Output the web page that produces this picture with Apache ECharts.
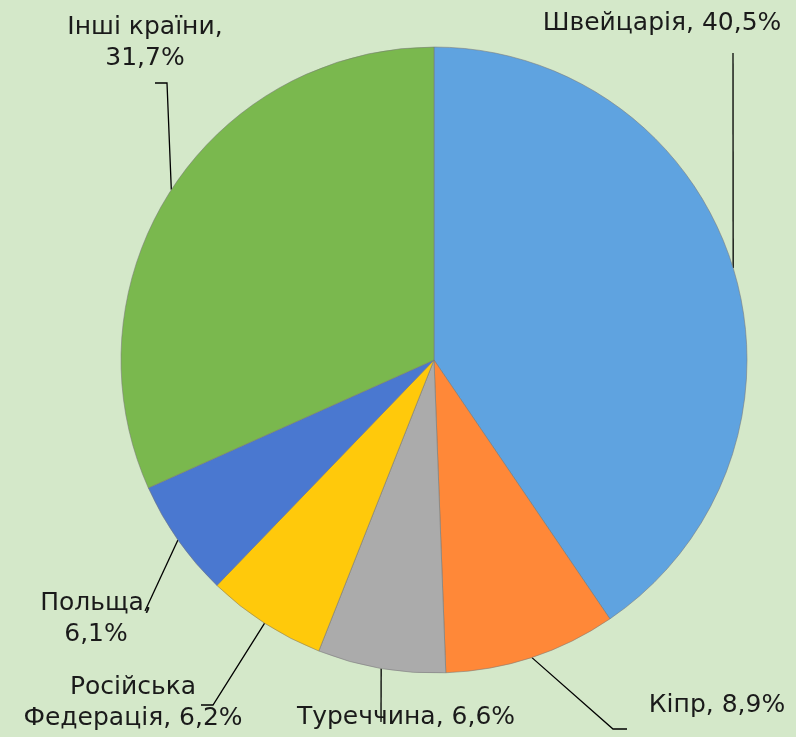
<!DOCTYPE html>
<html><head><meta charset="utf-8">
<script src="https://cdn.jsdelivr.net/npm/echarts@6/dist/echarts.min.js"></script>
<style>html,body{margin:0;padding:0;background:#D4E8C9;}#c{width:796px;height:737px;}</style>
</head><body><div id="c"></div>
<script>
const categories = ['Швейцарія', 'Кіпр', 'Туреччина', 'Російська\nФедерація', 'Польща', 'Інші країни'];
const values = [40.5, 8.9, 6.6, 6.2, 6.1, 31.7];
const valueLabels = ['40,5%', '8,9%', '6,6%', '6,2%', '6,1%', '31,7%'];
const colors = ['#5FA3E0', '#FF8838', '#ABABAB', '#FFC90B', '#4A78D0', '#7AB84E'];
// label placement: [textX, textY, elbowX, elbowY, endX, endY]
const labelPos = [
  [662, 23, 733, 53, 733, 53],
  [717, 705, 613, 729, 627, 729],
  [406, 717, 381, 722, 381, 722],
  [133, 703, 213, 705, 201, 705],
  [96, 619, 145, 611, 145, 611],
  [145, 43, 167, 83, 155, 83]
];
const labelText = categories.map((c, i) => {
  if (i === 0 || i === 1 || i === 2) return c + ', ' + valueLabels[i];
  if (i === 3) return 'Російська\nФедерація, ' + valueLabels[i];
  return c + ',\n' + valueLabels[i];
});
const chart = echarts.init(document.getElementById('c'));
chart.setOption({
  backgroundColor: '#D4E8C9',
  animation: false,
  series: [{
    type: 'pie',
    center: [434, 360],
    radius: 313,
    startAngle: 90,
    clockwise: true,
    data: categories.map((c, i) => ({name: c, value: values[i], itemStyle: {color: colors[i]}})),
    itemStyle: {borderColor: 'rgba(120,120,120,0.55)', borderWidth: 1},
    label: {
      show: true,
      position: 'outside',
      formatter: p => labelText[p.dataIndex],
      fontFamily: 'DejaVu Sans',
      fontSize: 25,
      lineHeight: 31,
      color: '#1a1a1a',
      align: 'center',
      overflow: 'none'
    },
    labelLine: {show: true, lineStyle: {color: '#000', width: 1.3}, length: 10, length2: 10},
    emphasis: {disabled: true},
    labelLayout: function (p) {
      const lp = labelPos[p.dataIndex];
      const start = p.labelLinePoints ? p.labelLinePoints[0] : [lp[2], lp[3]];
      return {
        x: lp[0], y: lp[1], align: 'center', verticalAlign: 'middle',
        labelLinePoints: [start, [lp[2], lp[3]], [lp[4], lp[5]]]
      };
    }
  }]
});
</script></body></html>
